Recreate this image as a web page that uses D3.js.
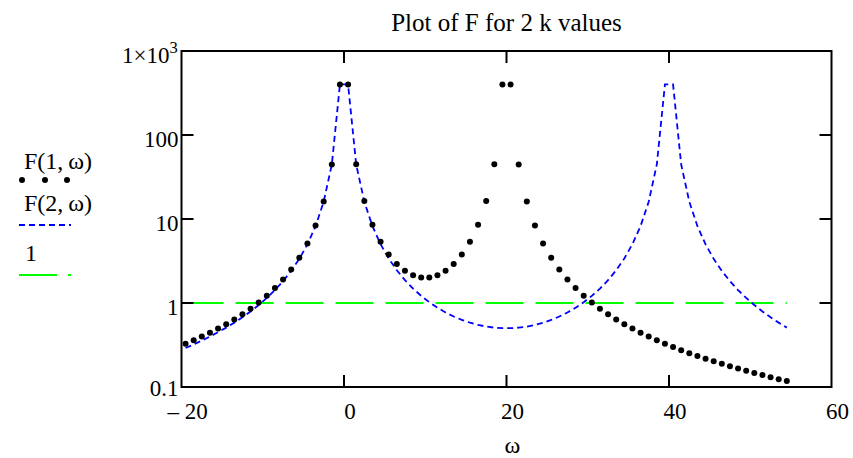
<!DOCTYPE html>
<html>
<head>
<meta charset="utf-8">
<script src="https://cdn.jsdelivr.net/npm/d3@7"></script>
<style>
  body { margin: 0; background: #fff; }
  svg { display: block; }
  text { font-family: "Liberation Serif", "Times New Roman", serif; fill: #000; }
</style>
</head>
<body>
<svg id="chart" width="853" height="458"></svg>
<script>
// sample points (omega) and the two series
const omega = [
  -19.5, -18.5, -17.5, -16.5, -15.5, -14.5, -13.5, -12.5, -11.5, -10.5,
  -9.5, -8.5, -7.5, -6.5, -5.5, -4.5, -3.5, -2.5, -1.5, -0.5,
  0.5, 1.5, 2.5, 3.5, 4.5, 5.5, 6.5, 7.5, 8.5, 9.5,
  10.5, 11.5, 12.5, 13.5, 14.5, 15.5, 16.5, 17.5, 18.5, 19.5,
  20.5, 21.5, 22.5, 23.5, 24.5, 25.5, 26.5, 27.5, 28.5, 29.5,
  30.5, 31.5, 32.5, 33.5, 34.5, 35.5, 36.5, 37.5, 38.5, 39.5,
  40.5, 41.5, 42.5, 43.5, 44.5, 45.5, 46.5, 47.5, 48.5, 49.5,
  50.5, 51.5, 52.5, 53.5, 54.5
];
const f1 = [
  0.327, 0.360, 0.398, 0.442, 0.496, 0.560, 0.638, 0.735, 0.857, 1.015,
  1.223, 1.507, 1.910, 2.509, 3.460, 5.105, 8.344, 16.20, 44.66, 400.2,
  400.3, 44.74, 16.33, 8.531, 5.355, 3.781, 2.916, 2.418, 2.140, 2.015,
  2.015, 2.140, 2.418, 2.916, 3.781, 5.355, 8.531, 16.33, 44.74, 400.3,
  400.2, 44.66, 16.20, 8.344, 5.105, 3.460, 2.509, 1.910, 1.507, 1.223,
  1.015, 0.857, 0.735, 0.638, 0.560, 0.496, 0.442, 0.398, 0.360, 0.327,
  0.299, 0.274, 0.253, 0.234, 0.217, 0.202, 0.189, 0.177, 0.166, 0.156,
  0.147, 0.139, 0.131, 0.124, 0.118
];
const f2 = [
  0.291, 0.321, 0.357, 0.399, 0.449, 0.509, 0.584, 0.676, 0.794, 0.946,
  1.149, 1.427, 1.822, 2.413, 3.354, 4.989, 8.216, 16.06, 44.50, 400.1,
  400.1, 44.51, 16.07, 8.238, 5.018, 3.390, 2.456, 1.872, 1.485, 1.216,
  1.022, 0.879, 0.772, 0.691, 0.629, 0.583, 0.548, 0.524, 0.509, 0.501,
  0.501, 0.509, 0.524, 0.548, 0.583, 0.629, 0.691, 0.772, 0.879, 1.022,
  1.216, 1.485, 1.872, 2.456, 3.390, 5.018, 8.238, 16.07, 44.51, 400.1,
  400.1, 44.50, 16.06, 8.216, 4.989, 3.354, 2.413, 1.822, 1.427, 1.149,
  0.946, 0.794, 0.676, 0.584, 0.509
];
const unity = omega.map(() => 1);

const xTicks = [-20, 0, 20, 40, 60];
const xTickLabels = ['\u2013\u00a020', '0', '20', '40', '60'];
const yTicks = [0.1, 1, 10, 100, 1000];
const yTickLabels = ['0.1', '1', '10', '100', '1\u00d710'];

const title = 'Plot of F for 2 k values';

const plotL = 181.5, plotR = 831.5, plotT = 51, plotB = 387;
const tickLen = 12;

const svg = d3.select('#chart');
const x = d3.scaleLinear().domain([-20, 60]).range([plotL, plotR]);
const y = d3.scaleLog().domain([0.1, 1000]).range([plotB, plotT]);

const pts = (vals) => omega.map((w, i) => [w, vals[i]]);
const line = d3.line().x((d) => x(d[0])).y((d) => y(d[1]));

// series
svg.append('path')
  .attr('d', line(pts(unity)))
  .attr('fill', 'none')
  .attr('stroke', '#00ff00')
  .attr('stroke-width', 2)
  .attr('stroke-dasharray', '38 12');

svg.append('path')
  .attr('d', line(pts(f2)))
  .attr('fill', 'none')
  .attr('stroke', '#0000ff')
  .attr('stroke-width', 1.8)
  .attr('stroke-dasharray', '6 4');

svg.append('g')
  .selectAll('circle')
  .data(pts(f1))
  .enter()
  .append('circle')
  .attr('cx', (d) => x(d[0]))
  .attr('cy', (d) => y(d[1]))
  .attr('r', 3)
  .attr('fill', '#000');

// frame with inward ticks
const frame = svg.append('g').attr('stroke', '#000').attr('stroke-width', 2).attr('fill', 'none');
frame.append('rect')
  .attr('x', plotL).attr('y', plotT)
  .attr('width', plotR - plotL).attr('height', plotB - plotT);

const innerX = xTicks.slice(1, -1);
const innerY = yTicks.slice(1, -1);
innerX.forEach((v) => {
  frame.append('line').attr('x1', x(v)).attr('x2', x(v)).attr('y1', plotB).attr('y2', plotB - tickLen);
  frame.append('line').attr('x1', x(v)).attr('x2', x(v)).attr('y1', plotT).attr('y2', plotT + tickLen);
});
innerY.forEach((v) => {
  frame.append('line').attr('x1', plotL).attr('x2', plotL + tickLen).attr('y1', y(v)).attr('y2', y(v));
  frame.append('line').attr('x1', plotR).attr('x2', plotR - tickLen).attr('y1', y(v)).attr('y2', y(v));
});

// tick labels
const fs = 23;
xTicks.forEach((v, i) => {
  svg.append('text')
    .attr('x', x(v) + 6)
    .attr('y', 419)
    .attr('text-anchor', 'middle')
    .attr('font-size', fs)
    .text(xTickLabels[i]);
});
yTicks.forEach((v, i) => {
  svg.append('text')
    .attr('x', plotL - (i === yTicks.length - 1 ? 12 : 3))
    .attr('y', y(v) + (i === 0 ? 9 : 12))
    .attr('text-anchor', 'end')
    .attr('font-size', fs)
    .text(yTickLabels[i]);
  if (i === yTicks.length - 1) {
    svg.append('text')
      .attr('x', plotL - 12)
      .attr('y', y(v) + 2)
      .attr('font-size', fs * 0.72)
      .text('3');
  }
});

svg.append('text')
  .attr('x', (plotL + plotR) / 2 + 6)
  .attr('y', 453)
  .attr('text-anchor', 'middle')
  .attr('font-size', 24)
  .text('\u03c9');

svg.append('text')
  .attr('x', (plotL + plotR) / 2)
  .attr('y', 31)
  .attr('text-anchor', 'middle')
  .attr('font-size', 25)
  .text(title);

// legend
const lfs = 24;
const legend = svg.append('g');
legend.append('text').attr('x', 24).attr('y', 169).attr('font-size', lfs).text('F(1,\u2009\u03c9)');
legend.selectAll('circle')
  .data([22, 45, 67])
  .enter()
  .append('circle')
  .attr('cx', (d) => d)
  .attr('cy', 180)
  .attr('r', 3)
  .attr('fill', '#000');
legend.append('text').attr('x', 24).attr('y', 211).attr('font-size', lfs).text('F(2,\u2009\u03c9)');
legend.append('line')
  .attr('x1', 19).attr('x2', 71).attr('y1', 225).attr('y2', 225)
  .attr('stroke', '#0000ff').attr('stroke-width', 1.8).attr('stroke-dasharray', '6 4');
legend.append('text').attr('x', 25).attr('y', 261).attr('font-size', lfs).text('1');
legend.append('line')
  .attr('x1', 19).attr('x2', 71).attr('y1', 275).attr('y2', 275)
  .attr('stroke', '#00ff00').attr('stroke-width', 2).attr('stroke-dasharray', '38 11');
</script>
</body>
</html>
